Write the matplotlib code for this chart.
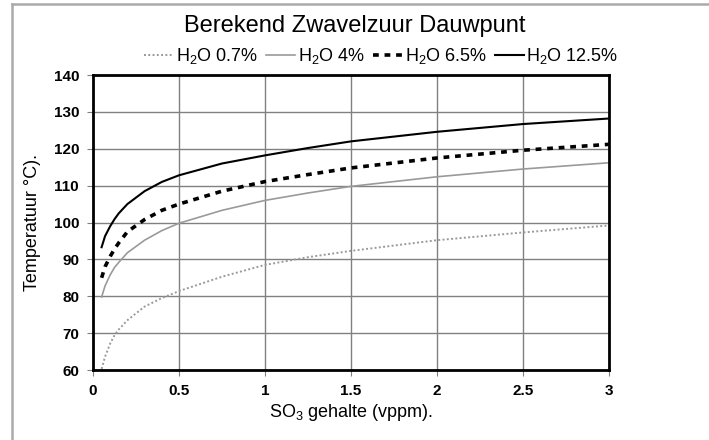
import matplotlib
matplotlib.use('Agg')
import matplotlib.pyplot as plt
from matplotlib.lines import Line2D

plt.rcParams['font.family'] = ['Liberation Sans', 'DejaVu Sans']
plt.rcParams['mathtext.fontset'] = 'custom'
plt.rcParams['mathtext.rm'] = 'Liberation Sans'
plt.rcParams['mathtext.it'] = 'Liberation Sans:italic'
plt.rcParams['mathtext.bf'] = 'Liberation Sans:bold'

so3 = [0.05, 0.07, 0.1, 0.125, 0.15, 0.2, 0.3, 0.4, 0.5, 0.75, 1, 1.25, 1.5, 2, 2.5, 3]
h2o_07 = [60.3, 63.6, 67.2, 69.4, 71.0, 73.5, 77.2, 79.5, 81.4, 85.3, 88.5, 90.6, 92.3, 95.2, 97.3, 99.2]
h2o_4 = [79.8, 82.8, 85.8, 87.8, 89.2, 91.8, 95.2, 97.8, 99.8, 103.3, 106.0, 108.0, 109.8, 112.4, 114.5, 116.2]
h2o_65 = [85.0, 88.0, 90.8, 92.8, 94.5, 97.5, 100.8, 103.3, 105.0, 108.5, 111.1, 113.0, 114.8, 117.5, 119.6, 121.2]
h2o_125 = [93.3, 96.3, 99.0, 100.9, 102.5, 105.0, 108.5, 111.0, 112.8, 116.0, 118.2, 120.2, 122.0, 124.6, 126.7, 128.2]

labels = ['H$_2$O 0.7%', 'H$_2$O 4%', 'H$_2$O 6.5%', 'H$_2$O 12.5%']

fig = plt.figure(figsize=(7.09, 4.4), dpi=100)
ax = fig.add_axes([93 / 709, 1 - 370 / 440, 516 / 709, 295 / 440])

l1, = ax.plot(so3, h2o_07, color='#9a9a9a', lw=1.4, linestyle=(0, (1, 1.2)))
l2, = ax.plot(so3, h2o_4, color='#9a9a9a', lw=1.2)
l3, = ax.plot(so3, h2o_65, color='black', lw=2.6, linestyle=(0, (1.6, 1.6)))
l4, = ax.plot(so3, h2o_125, color='black', lw=1.5)

ax.set_xlim(0, 3)
ax.set_ylim(60, 140)
ax.set_xticks([0, 0.5, 1, 1.5, 2, 2.5, 3])
ax.set_xticklabels(['0', '0.5', '1', '1.5', '2', '2.5', '3'])
ax.set_yticks(range(60, 141, 10))
ax.grid(True, color='#808080', lw=1.0)
ax.set_axisbelow(True)
for s in ax.spines.values():
    s.set_linewidth(2.0)
    s.set_color('black')
ax.tick_params(length=4, width=0.8, color='#808080', labelsize=11, pad=6)
for t in ax.get_xticklabels() + ax.get_yticklabels():
    t.set_fontweight('bold')

ax.set_xlabel('SO$_3$ gehalte (vppm).', fontsize=13, labelpad=3)
ax.set_ylabel('Temperatuur °C).', fontsize=13, labelpad=9)

fig.text(0.5, 0.942, 'Berekend Zwavelzuur Dauwpunt', ha='center', va='center', fontsize=17)
fig.legend([l1, l2, l3, l4], labels, loc='center', bbox_to_anchor=(0.538, 0.872),
           ncol=4, frameon=False, fontsize=13, handlelength=1.6, handletextpad=0.15,
           columnspacing=0.45)

fig.add_artist(Line2D([12 / 709, 12 / 709], [0, 1 - 4 / 440], color='#aaaaaa', lw=1.8))
fig.add_artist(Line2D([12 / 709, 1], [1 - 4 / 440, 1 - 4 / 440], color='#aaaaaa', lw=1.8))

fig.savefig('out.png', dpi=100)
